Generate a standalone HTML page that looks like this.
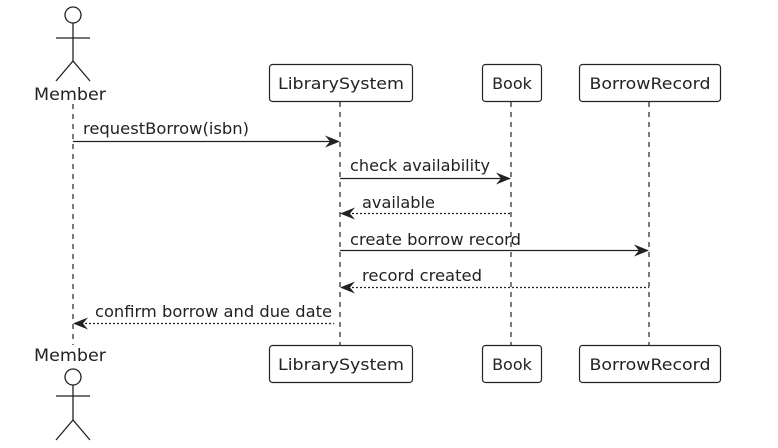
<!DOCTYPE html>
<html><head><meta charset="utf-8"><style>
html,body{margin:0;padding:0;background:#fff;width:778px;height:448px;overflow:hidden}
text{font-family:"DejaVu Sans","Liberation Sans",sans-serif;font-size:16px;fill:#222}
</style></head><body>
<svg width="778" height="448" xmlns="http://www.w3.org/2000/svg">
<g stroke="#222" stroke-width="1.2" stroke-dasharray="5,5" fill="none">
<line x1="73" y1="104" x2="73" y2="345"/>
<line x1="340" y1="102" x2="340" y2="345"/>
<line x1="511" y1="102" x2="511" y2="345"/>
<line x1="649" y1="102" x2="649" y2="345"/>
</g>
<g fill="#fff" stroke="#222" stroke-width="1.2">
<rect x="269.5" y="64.5" width="143" height="37" rx="3"/>
<rect x="482.5" y="64.5" width="59" height="37" rx="3"/>
<rect x="579.5" y="64.5" width="141" height="37" rx="3"/>
<rect x="269.5" y="345.5" width="143" height="37" rx="3"/>
<rect x="482.5" y="345.5" width="59" height="37" rx="3"/>
<rect x="579.5" y="345.5" width="141" height="37" rx="3"/>
</g>
<g style="font-size:17px">
<text x="341" y="89" text-anchor="middle" textLength="126" lengthAdjust="spacingAndGlyphs">LibrarySystem</text>
<text x="512" y="89" text-anchor="middle">Book</text>
<text x="650" y="89" text-anchor="middle" textLength="121" lengthAdjust="spacingAndGlyphs">BorrowRecord</text>
<text x="341" y="370" text-anchor="middle" textLength="126" lengthAdjust="spacingAndGlyphs">LibrarySystem</text>
<text x="512" y="370" text-anchor="middle">Book</text>
<text x="650" y="370" text-anchor="middle" textLength="121" lengthAdjust="spacingAndGlyphs">BorrowRecord</text>
</g>
<g stroke="#222" stroke-width="1.3" fill="none">
<circle cx="73" cy="15" r="8"/>
<line x1="73" y1="23" x2="73" y2="61"/>
<line x1="56" y1="38" x2="90" y2="38"/>
<polyline points="56,81 73,61 90,81"/>
<circle cx="73" cy="377" r="8"/>
<line x1="73" y1="385" x2="73" y2="420"/>
<line x1="56" y1="396" x2="90" y2="396"/>
<polyline points="56,440 73,420 90,440"/>
</g>
<text x="70" y="100" text-anchor="middle" style="font-size:17px" textLength="72" lengthAdjust="spacingAndGlyphs">Member</text>
<text x="70" y="361" text-anchor="middle" style="font-size:17px" textLength="72" lengthAdjust="spacingAndGlyphs">Member</text>
<g stroke="#222" stroke-width="1.3" fill="none">
<line x1="73" y1="141.5" x2="336" y2="141.5"/>
<line x1="340" y1="178.5" x2="507" y2="178.5"/>
<line x1="344" y1="213.5" x2="511" y2="213.5" stroke-dasharray="2,2"/>
<line x1="340" y1="250.5" x2="645" y2="250.5"/>
<line x1="344" y1="287.5" x2="649" y2="287.5" stroke-dasharray="2,2"/>
<line x1="77" y1="323.5" x2="334" y2="323.5" stroke-dasharray="2,2"/>
</g>
<g fill="#222">
<polygon points="340,141.5 325,135.5 330,141.5 325,147.5"/>
<polygon points="511,178.5 496,172.5 501,178.5 496,184.5"/>
<polygon points="340,213.5 355,207.5 350,213.5 355,219.5"/>
<polygon points="649,250.5 634,244.5 639,250.5 634,256.5"/>
<polygon points="340,287.5 355,281.5 350,287.5 355,293.5"/>
<polygon points="73,323.5 88,317.5 83,323.5 88,329.5"/>
</g>
<text x="83" y="134" textLength="166" lengthAdjust="spacingAndGlyphs">requestBorrow(isbn)</text>
<text x="350" y="171" textLength="140" lengthAdjust="spacingAndGlyphs">check availability</text>
<text x="362" y="208" textLength="73" lengthAdjust="spacingAndGlyphs">available</text>
<text x="350" y="245" textLength="171" lengthAdjust="spacingAndGlyphs">create borrow record</text>
<text x="362" y="281" textLength="120" lengthAdjust="spacingAndGlyphs">record created</text>
<text x="95" y="317" textLength="237" lengthAdjust="spacingAndGlyphs">confirm borrow and due date</text>
</svg>
</body></html>
